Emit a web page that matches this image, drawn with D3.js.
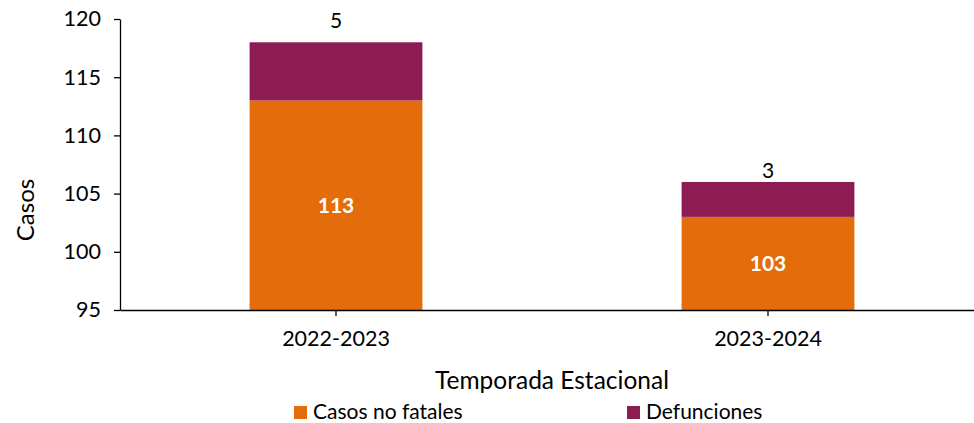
<!DOCTYPE html>
<html>
<head>
<meta charset="utf-8">
<script src="https://cdn.jsdelivr.net/npm/d3@7"></script>
<style>
	body { margin: 0; background: #fff; }
	svg text { font-family: Lato, "Open Sans", sans-serif; fill: #000; }
</style>
</head>
<body>
<svg id="chart" width="974" height="423"></svg>
<script>
// data
var seasons = ['2022-2023', '2023-2024'];
var nonFatal = [113, 103];
var deaths = [5, 3];
var seriesNames = ['Casos no fatales', 'Defunciones'];
var yTicks = [95, 100, 105, 110, 115, 120];

var colors = ['#E46C0A', '#8D1C52'];
var labelLift = [22, 11];

var svg = d3.select('#chart');

var x = d3.scaleBand()
	.domain(seasons)
	.range([120, 984])
	.paddingInner(0.6)
	.paddingOuter(0.3);

var y = d3.scaleLinear()
	.domain([95, 120])
	.range([310, 19]);

var rows = seasons.map(function(s, i) {
	return { season: s, nonFatal: nonFatal[i], deaths: deaths[i] };
});
var stack = d3.stack().keys(['nonFatal', 'deaths']);
var layers = stack(rows);

var g = svg.append('g');
g.selectAll('g.layer')
	.data(layers)
	.enter().append('g')
	.attr('class', 'layer')
	.attr('fill', function(d, i) { return colors[i]; })
	.selectAll('rect')
	.data(function(d) { return d; })
	.enter().append('rect')
	.attr('x', function(d) { return x(d.data.season); })
	.attr('width', x.bandwidth())
	.attr('y', function(d) { return y(Math.max(d[1], 95)); })
	.attr('height', function(d) { return y(Math.max(d[0], 95)) - y(d[1]); });

// values inside the orange part
g.selectAll('text.inner')
	.data(layers[0])
	.enter().append('text')
	.attr('class', 'inner')
	.attr('x', function(d) { return x(d.data.season) + x.bandwidth() / 2; })
	.attr('y', function(d) { return y((Math.max(d[0], 95) + d[1]) / 2); })
	.attr('dy', '0.35em')
	.attr('text-anchor', 'middle')
	.style('font-size', '21px')
	.style('font-weight', 'bold')
	.style('fill', '#fff')
	.text(function(d) { return d.data.nonFatal; });

// deaths above the bar
g.selectAll('text.top')
	.data(layers[1])
	.enter().append('text')
	.attr('class', 'top')
	.attr('x', function(d) { return x(d.data.season) + x.bandwidth() / 2; })
	.attr('y', function(d, i) { return y(d[1]) - labelLift[i]; })
	.attr('dy', '0.35em')
	.attr('text-anchor', 'middle')
	.style('font-size', '21px')
	.text(function(d) { return d.data.deaths; });

// axes
svg.append('g')
	.attr('transform', 'translate(120,0)')
	.call(d3.axisLeft(y).tickValues(yTicks).tickSize(6).tickSizeOuter(0).tickPadding(13));

svg.append('g')
	.attr('transform', 'translate(0,310)')
	.call(d3.axisBottom(x).tickSize(6).tickSizeOuter(0).tickPadding(15));

svg.selectAll('.domain, .tick line')
	.attr('stroke', '#000')
	.attr('stroke-width', 1.3);
svg.selectAll('.tick text')
	.style('font-size', '21.5px')
	.style('font-family', 'Lato, sans-serif')
	.attr('fill', '#000');

// titles
svg.append('text')
	.attr('transform', 'translate(34,210) rotate(-90)')
	.attr('text-anchor', 'middle')
	.style('font-size', '24px')
	.text('Casos');

svg.append('text')
	.attr('x', 552)
	.attr('y', 389)
	.attr('text-anchor', 'middle')
	.style('font-size', '24.5px')
	.text('Temporada Estacional');

// legend
var legendX = [294, 627];
var legend = svg.selectAll('g.legend')
	.data(seriesNames)
	.enter().append('g')
	.attr('class', 'legend')
	.attr('transform', function(d, i) { return 'translate(' + legendX[i] + ',406)'; });
legend.append('rect')
	.attr('width', 13)
	.attr('height', 13)
	.attr('fill', function(d, i) { return colors[i]; });
legend.append('text')
	.attr('x', 19)
	.attr('y', 12.5)
	.style('font-size', '21px')
	.text(function(d) { return d; });
</script>
</body>
</html>
